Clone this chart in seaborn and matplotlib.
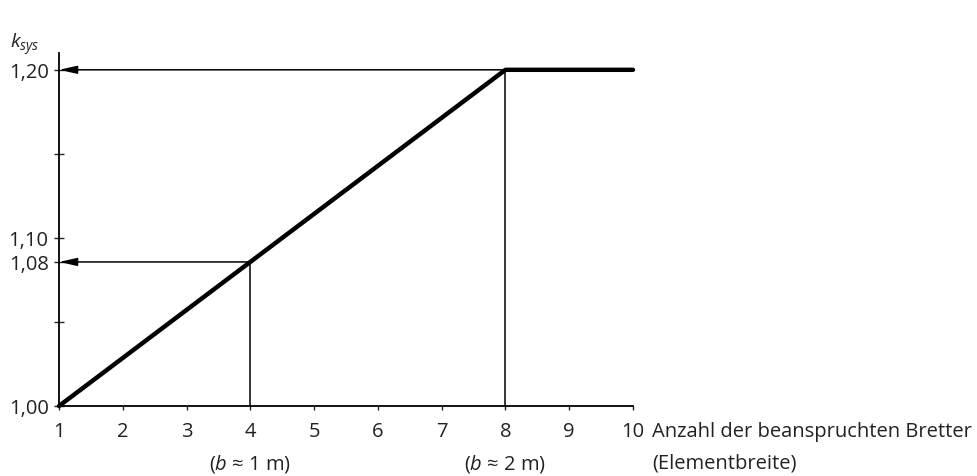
import matplotlib
matplotlib.use("Agg")
import matplotlib.pyplot as plt
import seaborn as sns
import pandas as pd

# data
boards = [1, 8, 10]
ksys = [1.00, 1.20, 1.20]
ref_boards = [4, 8]
ref_ksys = [1.0857, 1.20]
ref_notes = ["(b ≈ 1 m)", "(b ≈ 2 m)"]
yticks = [1.00, 1.05, 1.0857, 1.10, 1.15, 1.20]
ytick_labels = ["1,00", "", "1,08", "1,10", "", "1,20"]
xticks = list(range(1, 11))

sns.set_theme(style="ticks")
plt.rcParams['font.family'] = ['Open Sans', 'DejaVu Sans']
plt.rcParams['mathtext.fontset'] = 'custom'
plt.rcParams['mathtext.it'] = 'Open Sans:italic'
plt.rcParams['mathtext.rm'] = 'Open Sans'
FS = 14.5

fig = plt.figure(figsize=(9.77, 4.77), dpi=100)
ax = fig.add_axes([59/977, 70/477, (633-59)/977, (407-54)/477])

df = pd.DataFrame({"n": boards, "k": ksys})
sns.lineplot(data=df, x="n", y="k", ax=ax, color="black", linewidth=3.2,
             clip_on=False, solid_capstyle="round")

for xb, yk in zip(ref_boards, ref_ksys):
    ax.plot([xb, xb], [1.0, yk], color="black", linewidth=1.1, clip_on=False)
    ax.annotate("", xy=(1.0, yk), xytext=(xb, yk),
                arrowprops=dict(arrowstyle="-|>,head_length=0.9,head_width=0.2",
                                color="black", lw=1.1, shrinkA=0, shrinkB=0),
                annotation_clip=False)

ax.set_xlim(1, 10)
ax.set_ylim(1.0, 1.21)
ax.set_xticks(xticks)
ax.set_xticklabels([str(x) for x in xticks], fontsize=FS, color="#222222")
ax.set_yticks(yticks)
ax.set_yticklabels(ytick_labels, fontsize=FS, color="#222222")
ax.tick_params(axis="y", direction="inout", length=7, width=1, pad=4)
ax.tick_params(axis="x", direction="out", length=3, width=1, pad=8)
ax.set_xlabel("")
ax.set_ylabel("")
sns.despine(ax=ax)
for s in ["left", "bottom"]:
    ax.spines[s].set_linewidth(1.3)
    ax.spines[s].set_color("black")

fig.text(10/977, 1 - 45/477, r"$k_{sys}$", fontsize=14, ha="left", va="center",
         color="#222222")
fig.text(652/977, 1 - 432/477, "Anzahl der beanspruchten Bretter", fontsize=FS,
         ha="left", va="center", color="#222222")
fig.text(652/977, 1 - 464/477, "(Elementbreite)", fontsize=FS,
         ha="left", va="center", color="#222222")
for xb, note in zip(ref_boards, ref_notes):
    pre, post = note.split("b", 1)
    ax.annotate(r"$($" + r"$b$" + post, xy=(xb, 1.0), xycoords="data",
                xytext=(0, -57 * 72 / 100), textcoords="offset points",
                ha="center", va="center", fontsize=FS, color="#222222",
                annotation_clip=False)

fig.savefig("out.png", dpi=100)
